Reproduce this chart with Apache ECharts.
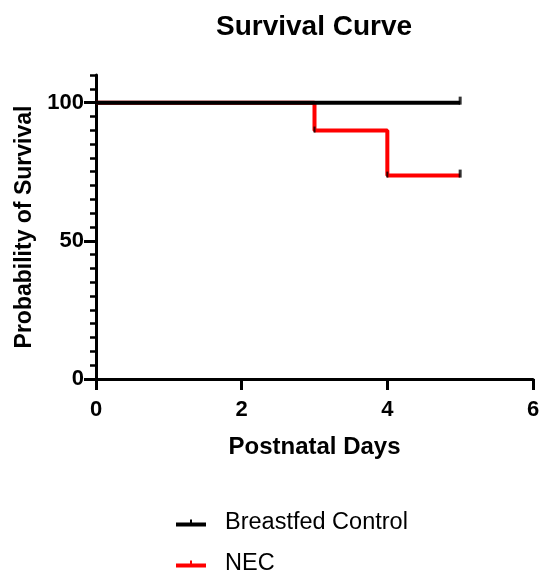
<!DOCTYPE html>
<html>
<head>
<meta charset="utf-8">
<script src="https://cdn.jsdelivr.net/npm/echarts@6/dist/echarts.min.js"></script>
<style>
html,body{margin:0;padding:0;background:#fff;}
#chart{width:539px;height:575px;}
</style>
</head>
<body>
<div id="chart"></div>
<script>
// Data
var seriesNames = ['Breastfed Control', 'NEC'];
var breastfedDays = [0, 5];
var breastfedSurvival = [100, 100];
var necDays = [0, 3, 4, 5];
var necSurvival = [100, 89.9, 73.6, 73.6];
var censorDays = [5, 5];
var censorSurvival = [100, 73.6];
var eventDays = [3, 4];
var eventSurvival = [89.9, 73.6];
var yTickLabels = [0, 50, 100];
var xTickValues = [0, 2, 4, 6];

function pairs(xs, ys) { return xs.map(function (x, i) { return [x, ys[i]]; }); }

var FONT = 'Liberation Sans, Arial, sans-serif';
var chart = echarts.init(document.getElementById('chart'), null, {renderer: 'canvas'});
var legendIcon = 'path://M0,3 L30,3 L30,7 L0,7 Z M14,0 L16,0 L16,3 L14,3 Z';

chart.setOption({
  animation: false,
  backgroundColor: '#ffffff',
  title: {
    text: 'Survival Curve',
    left: 211,
    top: 8,
    textStyle: {fontFamily: FONT, fontSize: 28, fontWeight: 'bold', color: '#000'}
  },
  grid: {left: 96, right: 6, top: 75, bottom: 196, containLabel: false, outerBoundsMode: 'none'},
  legend: {
    data: seriesNames,
    orient: 'vertical',
    left: 176,
    top: 511,
    height: 70,
    padding: 0,
    itemWidth: 30,
    itemHeight: 7,
    itemGap: 17,
    icon: legendIcon,
    textStyle: {fontFamily: FONT, fontSize: 23.5, color: '#000', padding: [0, 0, 0, 14]}
  },
  xAxis: {
    type: 'value',
    min: 0,
    max: 6,
    interval: 2,
    name: 'Postnatal Days',
    nameLocation: 'middle',
    nameGap: 56,
    nameTextStyle: {fontFamily: FONT, fontSize: 24, fontWeight: 'bold', color: '#000'},
    axisLine: {show: true, onZero: false, lineStyle: {color: '#000', width: 3}},
    axisTick: {show: true, length: 11, lineStyle: {color: '#000', width: 3}, customValues: xTickValues},
    axisLabel: {fontFamily: FONT, fontSize: 22, fontWeight: 'bold', color: '#000', margin: 20, customValues: xTickValues},
    splitLine: {show: false}
  },
  yAxis: [{
    type: 'value',
    min: 0,
    max: 110,
    interval: 5,
    name: 'Probability of Survival',
    nameLocation: 'middle',
    nameGap: 52,
    nameTextStyle: {fontFamily: FONT, fontSize: 23, fontWeight: 'bold', color: '#000'},
    axisLine: {show: true, onZero: false, lineStyle: {color: '#000', width: 3}},
    axisTick: {show: true, length: 6, lineStyle: {color: '#000', width: 2.5}},
    axisLabel: {fontFamily: FONT, fontSize: 22, fontWeight: 'bold', color: '#000', margin: 12, customValues: yTickLabels},
    splitLine: {show: false}
  }, {
    type: 'value',
    min: 0,
    max: 110,
    interval: 5,
    position: 'left',
    axisLine: {show: false},
    axisTick: {show: true, length: 12, lineStyle: {color: '#000', width: 3}, customValues: yTickLabels},
    axisLabel: {show: false},
    splitLine: {show: false}
  }],
  series: [{
    name: seriesNames[0],
    type: 'line',
    step: 'end',
    data: pairs(breastfedDays, breastfedSurvival),
    symbol: 'none',
    color: '#000000',
    lineStyle: {color: '#000000', width: 4},
    z: 3
  }, {
    name: seriesNames[1],
    type: 'line',
    step: 'end',
    data: pairs(necDays, necSurvival),
    symbol: 'none',
    color: '#ff0000',
    lineStyle: {color: '#ff0000', width: 4},
    z: 2
  }, {
    name: 'censor',
    type: 'scatter',
    data: pairs(censorDays, censorSurvival),
    symbol: 'rect',
    symbolSize: [3, 8],
    symbolOffset: [0, -2],
    itemStyle: {color: '#000'},
    z: 4
  }, {
    name: 'event',
    type: 'scatter',
    data: pairs(eventDays, eventSurvival),
    symbol: 'rect',
    symbolSize: [2, 6],
    symbolOffset: [0, -1],
    itemStyle: {color: '#000'},
    z: 4
  }]
});
</script>
</body>
</html>
